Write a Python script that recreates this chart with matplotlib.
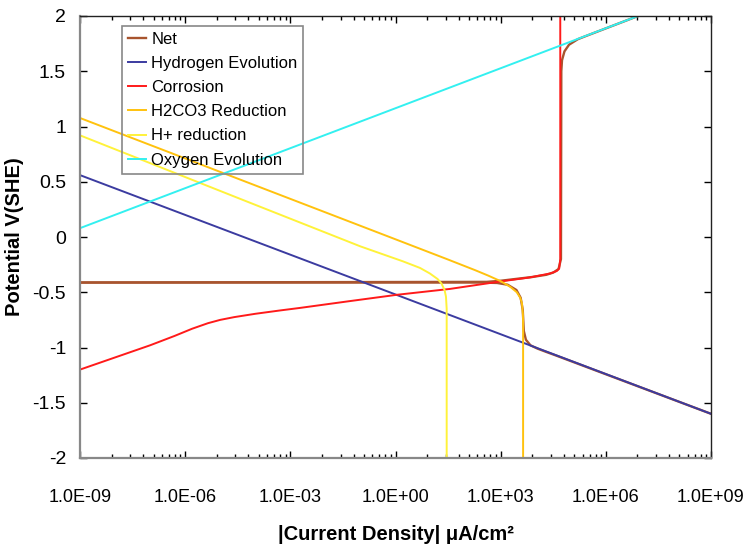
import matplotlib
matplotlib.use('Agg')
import matplotlib.pyplot as plt
import numpy as np

plt.rcParams['font.family'] = ['Liberation Sans', 'DejaVu Sans']

# ---- axis ticks / labels ----
x_tick_values = [1e-9, 1e-6, 1e-3, 1e0, 1e3, 1e6, 1e9]
x_tick_labels = ['1.0E-09', '1.0E-06', '1.0E-03', '1.0E+00', '1.0E+03', '1.0E+06', '1.0E+09']
y_tick_values = [-2, -1.5, -1, -0.5, 0, 0.5, 1, 1.5, 2]
y_tick_labels = ['-2', '-1.5', '-1', '-0.5', '0', '0.5', '1', '1.5', '2']

# ---- series (log10 of current density in uA/cm2, potential V vs SHE) ----
net_log_i = [-9.0, 2.40, 2.90, 3.20, 3.45, 3.57, 3.63, 3.66, 3.72, 3.85, 4.05, 4.30, 4.60, 9.0]
net_E = [-0.412, -0.412, -0.416, -0.432, -0.48, -0.55, -0.66, -0.85, -0.93, -0.98, -1.01, -1.04, -1.075, -1.60]
net_anodic_log_i = [-9.0, 2.60, 3.00, 3.50, 3.90, 4.30, 4.50, 4.65, 4.72, 4.73, 4.75, 4.82, 4.95, 5.20, 5.40, 6.92]
net_anodic_E = [-0.412, -0.406, -0.396, -0.377, -0.362, -0.342, -0.322, -0.29, -0.20, 1.50, 1.60, 1.68, 1.74, 1.79, 1.815, 2.0]

h2_log_i = [-9.0, 9.0]
h2_E = [0.56, -1.60]

corr_log_i = [-9.0, -8.0, -7.0, -6.3, -5.8, -5.35, -5.0, -4.6, -4.0, -3.3, -2.73, -1.30, 0.04, 1.55, 2.98, 3.83, 4.41, 4.60, 4.67, 4.70, 4.70]
corr_E = [-1.20, -1.09, -0.98, -0.895, -0.83, -0.78, -0.75, -0.725, -0.695, -0.665, -0.642, -0.58, -0.523, -0.47, -0.403, -0.366, -0.33, -0.308, -0.285, -0.20, 2.0]

h2co3_log_i = [-9.0, -4.27, -0.17, 1.467, 2.27, 2.65, 3.00, 3.27, 3.46, 3.56, 3.607, 3.635, 3.64, 3.64]
h2co3_E = [1.077, 0.50, 0.0, -0.20, -0.30, -0.35, -0.40, -0.45, -0.50, -0.55, -0.60, -0.70, -0.80, -2.0]

hplus_log_i = [-9.0, -4.35, -1.0, 0.21, 0.70, 0.98, 1.20, 1.31, 1.40, 1.44, 1.46, 1.46]
hplus_E = [0.92, 0.335, -0.085, -0.22, -0.28, -0.33, -0.38, -0.42, -0.48, -0.54, -0.65, -2.0]

o2_log_i = [-9.0, 6.92]
o2_E = [0.08, 2.0]

colors = {
    'net': '#A8542E',
    'h2': '#3B3BA0',
    'corr': '#FF1A1A',
    'h2co3': '#FFC20E',
    'hplus': '#FFF23A',
    'o2': '#33F0F0',
}

fig = plt.figure(figsize=(7.48, 5.44), dpi=100)
ax = fig.add_axes([80 / 748, (544 - 458) / 544, 631 / 748, 442 / 544])

lw = 1.4
def pw(v):
    return np.power(10.0, np.asarray(v))

ax.plot(pw(net_anodic_log_i), net_anodic_E, color=colors['net'], lw=lw + 0.3)
ax.plot(pw(net_log_i), net_E, color=colors['net'], lw=lw + 0.3, label='Net')
ax.plot(pw(h2_log_i), h2_E, color=colors['h2'], lw=lw, label='Hydrogen Evolution')
ax.plot(pw(corr_log_i), corr_E, color=colors['corr'], lw=lw, label='Corrosion')
ax.plot(pw(h2co3_log_i), h2co3_E, color=colors['h2co3'], lw=lw, label='H2CO3 Reduction')
ax.plot(pw(hplus_log_i), hplus_E, color=colors['hplus'], lw=lw, label='H+ reduction')
ax.plot(pw(o2_log_i), o2_E, color=colors['o2'], lw=lw, label='Oxygen Evolution')

ax.set_xscale('log')
ax.set_xlim(1e-9, 1e9)
ax.set_ylim(-2, 2)

ax.set_xticks(x_tick_values)
ax.set_xticklabels(x_tick_labels)
minor = [10 ** (e + 3 * np.log10(k)) for e in range(-9, 9, 3) for k in range(2, 10)]
ax.set_xticks(minor, minor=True)
ax.set_xticklabels([], minor=True)
ax.set_yticks(y_tick_values)
ax.set_yticklabels(y_tick_labels)

ax.tick_params(axis='both', which='major', direction='in', length=5, width=1,
               top=True, right=True, colors='black')
ax.tick_params(axis='x', which='major', pad=22, labelsize=13)
ax.tick_params(axis='y', which='major', pad=10, labelsize=14)
ax.tick_params(axis='x', which='minor', direction='in', length=3, width=1, top=True)

for s in ('left', 'bottom'):
    ax.spines[s].set_color('#888888')
    ax.spines[s].set_linewidth(1.6)
for s in ('right', 'top'):
    ax.spines[s].set_color('#222222')
    ax.spines[s].set_linewidth(1.0)

ax.set_xlabel('|Current Density| μA/cm²', fontsize=14.5, fontweight='bold', labelpad=14)
ax.set_ylabel('Potential V(SHE)', fontsize=14.5, fontweight='bold', labelpad=6)

leg = ax.legend(loc='upper left', bbox_to_anchor=((122 - 80) / 631, 1 - 10 / 442),
                borderaxespad=0, fontsize=12, handlelength=1.1, handletextpad=0.3,
                labelspacing=0.55, borderpad=0.35, fancybox=False, framealpha=1)
leg.get_frame().set_facecolor('none')
leg.get_frame().set_edgecolor('#888888')
leg.get_frame().set_linewidth(1.2)

fig.savefig('out.png', dpi=100)
